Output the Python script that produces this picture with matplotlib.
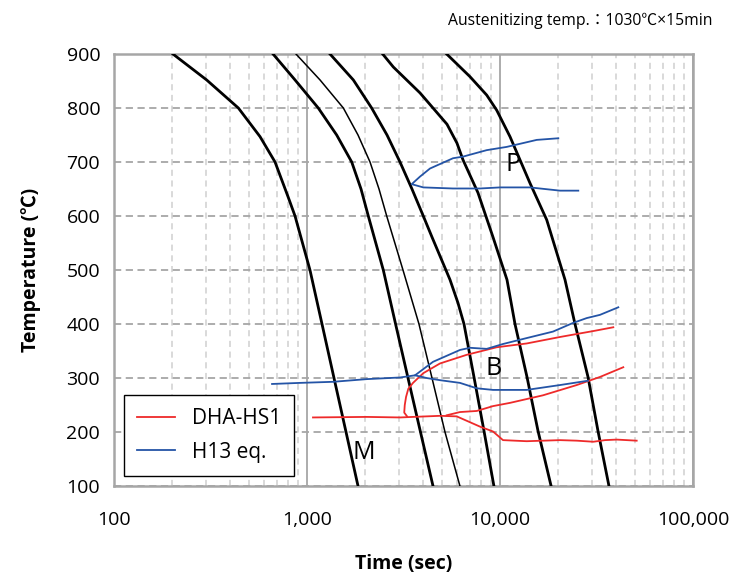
import matplotlib
matplotlib.use("Agg")
import matplotlib.pyplot as plt
from matplotlib.ticker import FixedLocator, FuncFormatter, LogLocator, NullFormatter

plt.rcParams['font.family'] = ['Open Sans', 'Noto Sans CJK JP', 'DejaVu Sans']

# cooling curves (time s, temperature C)
c1_t = [202, 302, 441, 571, 683, 797, 867, 1036, 1196, 1380, 1593, 1838]
c1_T = [900, 852, 800, 747, 700, 636, 600, 500, 400, 300, 200, 100]
c2_t = [667, 867, 1144, 1425, 1705, 1905, 2078, 2485, 2877, 3337, 3873, 4497]
c2_T = [900, 852, 800, 750, 700, 650, 600, 500, 400, 300, 200, 100]
c3_t = [877, 1168, 1543, 1838, 2121, 2361, 2588, 3143, 3803, 4443, 5188, 6200]
c3_T = [900, 852, 800, 750, 700, 650, 600, 500, 400, 300, 200, 100]
c4_t = [1316, 1738, 2163, 2598, 3033, 3499, 4005, 4443, 5508, 6058, 6509, 7330, 8262, 9300]
c4_T = [900, 852, 800, 750, 700, 650, 600, 561, 482, 439, 400, 302, 202, 100]
c5_t = [2467, 2800, 3850, 5313, 5985, 6431, 7691, 9198, 10870, 11960, 13800, 15740, 18400]
c5_T = [900, 876, 828, 770, 735, 704, 643, 561, 482, 400, 302, 202, 100]
c6_t = [5294, 6993, 8533, 9614, 11268, 14300, 17460, 21720, 24470, 28580, 32190, 36700]
c6_T = [900, 858, 824, 796, 747, 661, 593, 482, 400, 302, 202, 100]

# DHA-HS1 (red)
r1_t = [1074, 2039, 3033, 3542, 4889, 5965, 7877, 9199, 10363, 13750, 20460, 25000, 30440, 35000, 40240, 51080]
r1_T = [227, 228, 227, 228, 230, 229, 210, 201, 185, 183, 185, 184, 182, 185, 186, 184]
r2_t = [3300, 3190, 3210, 3260, 3348, 3542, 4005, 4889, 6722, 9614, 13750, 20460, 30440, 38640]
r2_T = [229, 236, 250, 265, 280, 291, 309, 327, 343, 357, 364, 376, 387, 394]
r3_t = [5294, 6204, 7574, 9199, 11268, 16700, 24970, 32970, 43540]
r3_T = [231, 237, 239, 248, 254, 268, 287, 302, 320]

# H13 eq. (blue)
b1_t = [659, 920, 1364, 2046, 3033, 3627, 4171, 4889, 6204, 7574, 9199, 13750, 20460, 28580]
b1_T = [289, 291, 293, 298, 301, 305, 300, 296, 291, 281, 278, 278, 287, 295]
b2_t = [3627, 4497, 6204, 6993, 8533, 10363, 13750, 18820, 23890, 28130, 32970, 41020]
b2_T = [305, 330, 352, 356, 354, 363, 374, 386, 402, 411, 417, 431]
b3_t = [20050, 15500, 10830, 8533, 6431, 5708, 4338, 3850, 3487, 4005, 5708, 7877, 10000, 14300, 20460, 25450]
b3_T = [744, 741, 728, 722, 710, 707, 688, 673, 659, 653, 651, 651, 653, 653, 647, 647]

fig = plt.figure(figsize=(7.29, 5.76), dpi=100)
ax = fig.add_axes([0.1564, 0.1562, 0.7942, 0.75])

ax.set_xscale('log')
ax.set_xlim(100, 100000)
ax.set_ylim(100, 900)

for t, T, lw in [(c1_t, c1_T, 2.0), (c2_t, c2_T, 2.0), (c3_t, c3_T, 1.1),
                 (c4_t, c4_T, 2.0), (c5_t, c5_T, 2.0), (c6_t, c6_T, 2.0)]:
    ax.plot(t, T, color='black', lw=lw, zorder=3, solid_joinstyle='round')

red = '#ee2a2a'
blue = '#2454a6'
lr, = ax.plot(r1_t, r1_T, color=red, lw=1.3, zorder=4, label='DHA-HS1')
ax.plot(r2_t, r2_T, color=red, lw=1.3, zorder=4)
ax.plot(r3_t, r3_T, color=red, lw=1.3, zorder=4)
lb, = ax.plot(b1_t, b1_T, color=blue, lw=1.3, zorder=4, label='H13 eq.')
ax.plot(b2_t, b2_T, color=blue, lw=1.3, zorder=4)
ax.plot(b3_t, b3_T, color=blue, lw=1.3, zorder=4)

ax.text(11680, 696, 'P', fontsize=18, ha='center', va='center', zorder=5)
ax.text(9305, 318, 'B', fontsize=18, ha='center', va='center', zorder=5)
ax.text(1975, 163, 'M', fontsize=18, ha='center', va='center', zorder=5)

ax.yaxis.set_major_locator(FixedLocator(range(100, 1000, 100)))
ax.xaxis.set_major_locator(LogLocator(base=10))
ax.xaxis.set_minor_locator(LogLocator(base=10, subs=range(2, 10)))
ax.xaxis.set_minor_formatter(NullFormatter())
ax.xaxis.set_major_formatter(FuncFormatter(lambda v, p: f'{int(round(v)):,}'))

ax.grid(which='major', axis='x', color='#a6a6a6', ls='-', lw=1.3)
ax.grid(which='minor', axis='x', color='#d0d0d0', ls=(0, (4, 3)), lw=1.1)
ax.grid(which='major', axis='y', color='#a6a6a6', ls=(0, (4, 2.5)), lw=1.3)
ax.set_axisbelow(True)
for s in ax.spines.values():
    s.set_color('#a6a6a6')
    s.set_linewidth(1.8)
ax.tick_params(which='both', length=0, labelsize=14)
ax.tick_params(axis='x', pad=18)
ax.tick_params(axis='y', pad=10)

ax.set_xlabel('Time (sec)', fontsize=14, fontweight='bold', labelpad=18)
ax.set_ylabel('Temperature (℃)', fontsize=14, fontweight='bold', labelpad=18)

leg = ax.legend(handles=[lr, lb], loc='lower left', bbox_to_anchor=(0.017, 0.023),
                fontsize=15, frameon=True, fancybox=False, framealpha=1,
                edgecolor='black', handlelength=1.8, handletextpad=0.8,
                borderpad=0.65, labelspacing=0.6, borderaxespad=0)
leg.get_frame().set_linewidth(1.0)

fig.text(0.977, 0.963, 'Austenitizing temp.：1030℃×15min', fontsize=11.3,
         ha='right', va='center')

fig.savefig('out.png', dpi=100)
